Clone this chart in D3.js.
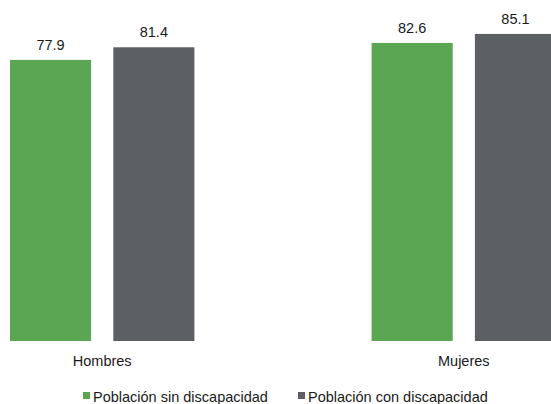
<!DOCTYPE html>
<html><head><meta charset="utf-8">
<script src="https://cdn.jsdelivr.net/npm/d3@7"></script>
<style>body{margin:0;background:#fff;} svg{display:block;font-family:"Liberation Sans",Arial,sans-serif;}</style>
</head><body>
<script>
const categories = ["Hombres", "Mujeres"];
const series = ["Población sin discapacidad", "Población con discapacidad"];
const sinDiscapacidad = [77.9, 82.6];
const conDiscapacidad = [81.4, 85.1];
const colors = ["#5ba653", "#5b6063"];

const W = 551, H = 404;
const svg = d3.select("body").append("svg").attr("width", W).attr("height", H);

const baseY = 341;
const y = d3.scaleLinear().domain([0, 94.5]).range([baseY, 0]);
const x0 = d3.scaleBand().domain(categories).range([10, 556]).paddingInner(0.49).paddingOuter(0);
const x1 = d3.scaleBand().domain(series).range([0, x0.bandwidth()]).paddingInner(0.215);

const data = categories.map((c, i) => ({cat: c, vals: [sinDiscapacidad[i], conDiscapacidad[i]]}));

const g = svg.selectAll("g.grp").data(data).join("g").attr("transform", d => `translate(${x0(d.cat)},0)`);
g.selectAll("rect").data(d => d.vals.map((v, j) => ({s: series[j], v, j})))
  .join("rect")
  .attr("x", d => x1(d.s)).attr("width", x1.bandwidth())
  .attr("y", d => y(d.v)).attr("height", d => baseY - y(d.v))
  .attr("fill", d => colors[d.j]);
g.selectAll("text").data(d => d.vals.map((v, j) => ({s: series[j], v, j})))
  .join("text")
  .attr("x", d => x1(d.s) + x1.bandwidth() / 2)
  .attr("y", d => y(d.v) - 10)
  .attr("text-anchor", "middle").attr("font-size", 14.5).attr("fill", "#1a1a1a")
  .text(d => d.v.toFixed(1));

svg.selectAll("text.cat").data(categories).join("text").attr("class", "cat")
  .attr("x", d => x0(d) + x0.bandwidth() / 2).attr("y", 366)
  .attr("text-anchor", "middle").attr("font-size", 14.5).attr("fill", "#1a1a1a")
  .text(d => d);

const legX = [83, 298];
const lg = svg.selectAll("g.leg").data(series).join("g").attr("class", "leg")
  .attr("transform", (d, i) => `translate(${legX[i]},0)`);
lg.append("rect").attr("x", 0).attr("y", 392).attr("width", 7).attr("height", 7).attr("fill", (d, i) => colors[i]);
lg.append("text").attr("x", 10).attr("y", 402).attr("font-size", 14.5).attr("fill", "#1a1a1a").text(d => d);
</script>
</body></html>
